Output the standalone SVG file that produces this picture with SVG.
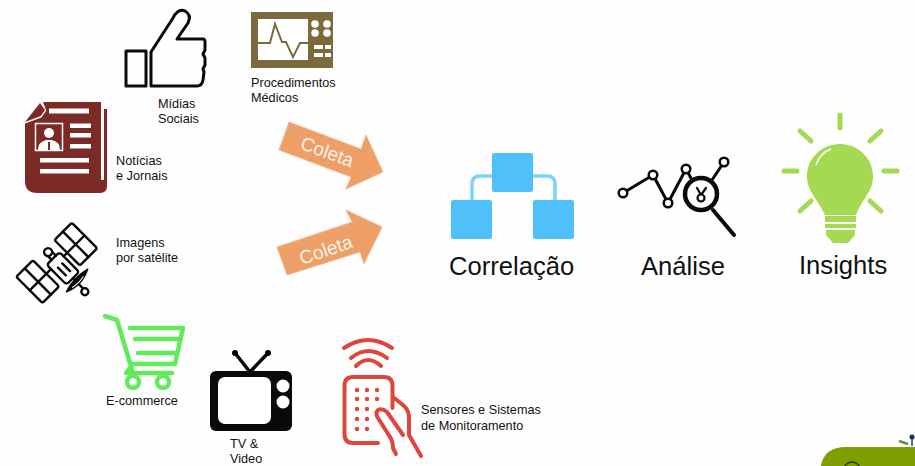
<svg xmlns="http://www.w3.org/2000/svg" width="915" height="466" viewBox="0 0 915 466">
<style>
text{font-family:"Liberation Sans",Arial,sans-serif;fill:#111}
.s{font-size:12.7px}
.b{font-size:25.6px}
.c{font-size:19px;fill:#fdf3ea;text-anchor:middle}
.k{fill:none;stroke:#0a0a0a;stroke-width:3;stroke-linejoin:round;stroke-linecap:round}
.sat{fill:none;stroke:#0a0a0a;stroke-width:2.400;stroke-linejoin:round;stroke-linecap:round}
.w{fill:#fff}
.ar{fill:#ee9f68;stroke:#f2bb94;stroke-width:1}
.cart{fill:none;stroke:#62e95c;stroke-width:4.500;stroke-linecap:round;stroke-linejoin:round}
.red{fill:none;stroke:#df463b;stroke-width:4;stroke-linecap:round;stroke-linejoin:round}
.dot{fill:#df463b}
.blue{fill:#4fc0f9}
.ray{stroke:#a5d951;stroke-width:5;stroke-linecap:round;fill:none}
</style>
<rect width="915" height="466" fill="#fefefe"/>

<g id="midias">
<rect class="k" x="126" y="51" width="20" height="35"/>
<path class="k" d="M151,86V52L173,18Q178,8 185,11Q192,15 188,23L177,39H203Q205,39 205,42V50L203,54L205,58V65L203,69L204,72L203,80Q202,86 197,86Z"/>
<text class="s" x="158" y="108">Mídias</text>
<text class="s" x="158" y="123">Sociais</text>
</g>

<g id="procedimentos">
<rect x="251" y="12" width="82" height="56" fill="#7b6b3c"/>
<rect class="w" x="258" y="19" width="50" height="41"/>
<path d="M258,43H270L275,24L282,42H286L293,57L300,43H308" fill="none" stroke="#7b6b3c" stroke-width="2"/>
<circle class="w" cx="315" cy="24" r="3.800"/><circle class="w" cx="327" cy="24" r="3.800"/>
<circle class="w" cx="315" cy="33" r="3.800"/><circle class="w" cx="327" cy="33" r="3.800"/>
<rect class="w" x="314" y="45" width="9" height="4"/><rect class="w" x="325" y="45" width="6" height="4"/>
<rect class="w" x="314" y="53" width="9" height="4"/><rect class="w" x="325" y="53" width="6" height="4"/>
<text class="s" x="251" y="87">Procedimentos</text>
<text class="s" x="251" y="102">Médicos</text>
</g>

<g id="noticias">
<path d="M25,123L41,117L46,110L43,102H101V180H104V109H107V186Q107,193 100,193H37Q25,193 25,181Z" fill="#7b2a26"/>
<path d="M25,122L40,103L45,110L41,116Z" fill="#7b2a26"/>
<path d="M25,123L41,117L46,110" fill="none" stroke="#fff" stroke-width="1.200"/>
<rect x="35.500" y="123.500" width="27" height="27" fill="none" stroke="#fff" stroke-width="1.500"/>
<circle class="w" cx="49" cy="133" r="5"/>
<path class="w" d="M38,150Q38,142 46,140H52Q60,142 60,150Z"/>
<rect x="48" y="142" width="2" height="8" fill="#7b2a26"/>
<rect class="w" x="49" y="108.500" width="40" height="5"/>
<rect class="w" x="70" y="123.500" width="21" height="4.500"/>
<rect class="w" x="70" y="133" width="21" height="4.500"/>
<rect class="w" x="70" y="144" width="21" height="4.500"/>
<rect class="w" x="40" y="158" width="49" height="4.500"/>
<rect class="w" x="40" y="169" width="49" height="4.500"/>
<text class="s" x="116" y="165">Notícias</text>
<text class="s" x="116" y="180">e Jornais</text>
</g>

<g id="satelite">
<g transform="translate(58,262) rotate(45)">
<g class="sat">
<rect x="-18" y="-37.500" width="36" height="24.500" rx="2"/>
<path d="M0,-37.500V-8M-18,-25H18"/>
<rect x="-19" y="16.500" width="37" height="23.500" rx="2"/>
<path d="M0,10V40M-19,28H18"/>
<rect x="-6" y="-8" width="28" height="18" rx="3"/>
<path d="M4,-2H15M4,4H15M-6,-3H-11M-6,3H-11M22,1H25M31,1H37"/>
<circle cx="-14" cy="0" r="4" fill="#fff"/>
</g>
<path d="M26,-16Q34,0 27,15Q22,0 26,-16Z" fill="#0a0a0a" stroke="#0a0a0a" stroke-width="1.500" stroke-linejoin="round"/>
<path d="M28,-8Q30,0 28,8" fill="none" stroke="#fff" stroke-width="1"/>
<circle cx="40" cy="2" r="3.500" fill="#fff" stroke="#0a0a0a" stroke-width="2.400"/>
</g>
<text class="s" x="116" y="247">Imagens</text>
<text class="s" x="116" y="262">por satélite</text>
</g>

<g id="ecommerce">
<path class="cart" d="M105,316L117,320L133,373M130,328H183L175,364H132M135,339H179M138,353H176M132,365L126,373H172"/>
<circle class="cart" cx="133" cy="382" r="6"/>
<circle class="cart" cx="163" cy="382" r="6"/>
<text class="s" x="106" y="405">E-commerce</text>
</g>

<g id="tv">
<path d="M235,353L250,372L268,353" fill="none" stroke="#0a0a0a" stroke-width="3.500" stroke-linecap="round"/>
<circle cx="235" cy="353" r="3"/><circle cx="268" cy="353" r="3"/>
<rect x="210" y="371" width="82" height="60" rx="6" fill="#0a0a0a"/>
<rect class="w" x="218" y="377" width="53" height="47" rx="7"/>
<circle class="w" cx="283" cy="386" r="6.500"/>
<circle class="w" cx="283" cy="402" r="6.500"/>
<text class="s" x="230" y="448">TV &amp;</text>
<text class="s" x="230" y="463">Video</text>
</g>

<g id="sensores">
<path class="red" d="M344,348Q368,332 392,348M351,358Q368,344 387,358M356,366Q368,354 381,366"/>
<path class="red" d="M378,443H353Q344.500,443 344.500,434V386Q344.500,377 353,377H384Q392.500,377 392.500,386V408"/>
<path class="red" d="M393,397L403,405Q409,410 409,418V435L421,456"/>
<path class="red" d="M403,435L387,412Q382,408 378,410Q375,413 378,418L390,437Q393,441 393,448L396,454"/>
<g class="dot">
<circle cx="357" cy="390" r="2.200"/><circle cx="367" cy="390" r="2.200"/><circle cx="377" cy="390" r="2.200"/>
<circle cx="357" cy="399" r="2.200"/><circle cx="367" cy="399" r="2.200"/><circle cx="377" cy="399" r="2.200"/>
<circle cx="357" cy="409" r="2.200"/><circle cx="367" cy="409" r="2.200"/>
<circle cx="357" cy="419" r="2.200"/><circle cx="367" cy="419" r="2.200"/>
<circle cx="357" cy="429" r="2.200"/><circle cx="367" cy="429" r="2.200"/>
</g>
<text class="s" x="421" y="414">Sensores e Sistemas</text>
<text class="s" x="421" y="430">de Monitoramento</text>
</g>

<g id="connectors">
<polygon class="ar" points="289,122 361,149 366,135 383,172 346,189 351,177 279,150"/>
<text class="c" transform="translate(325,158) rotate(20)">Coleta</text>
<polygon class="ar" points="277,247 352,222 346,210 382,227 364,264 360,252 287,275"/>
<text class="c" transform="translate(328,256) rotate(-19)">Coleta</text>
</g>

<g id="correlacao">
<path d="M472,200V184Q472,176 480,176H547Q555,176 555,184V200" fill="none" stroke="#7fd2fa" stroke-width="3.500"/>
<rect class="blue" x="492" y="153" width="41" height="39" rx="2.500"/>
<rect class="blue" x="451" y="200" width="41" height="39" rx="2.500"/>
<rect class="blue" x="533" y="200" width="41" height="39" rx="2.500"/>
<text class="b" x="449" y="275">Correlação</text>
</g>

<g id="analise">
<path class="k" d="M623,193L653,175L668,203L686,169L692,180M712,180L724,162"/>
<circle cx="701" cy="194" r="16" fill="#fff" stroke="#0a0a0a" stroke-width="4.500"/>
<path class="k" style="stroke-width:2.200" d="M697,188L701,195L706,188"/>
<circle cx="701" cy="198" r="3.500" fill="#fff" stroke="#0a0a0a" stroke-width="2.200"/>
<path d="M713,210L734,235" stroke="#0a0a0a" stroke-width="4" stroke-linecap="round" fill="none"/>
<g fill="#fff" stroke="#0a0a0a" stroke-width="2.500">
<circle cx="623" cy="193" r="4.300"/><circle cx="653" cy="175" r="4.300"/><circle cx="668" cy="203" r="4.300"/><circle cx="686" cy="169" r="4.300"/><circle cx="724" cy="162" r="4.300"/>
</g>
<text class="b" x="641" y="275">Análise</text>
</g>

<g id="insights">
<path class="ray" d="M840,115V128M784,171H797M884,171H897M800,131L811,141M881,131L870,141M811,201L800,211M870,201L881,211"/>
<path d="M840,144C821,144 807,159 807,176C807,192 818,199 825,215H856C862,199 873,192 873,176C873,159 859,144 840,144Z" fill="#a5d951"/>
<path d="M825,216H856V222H825ZM825,224H856V228H825ZM826,230H855V235L848,243H833L826,235Z" fill="#a5d951"/>
<path d="M816,165Q820,153 831,149" fill="none" stroke="#fff" stroke-width="1.500"/>
<text class="b" x="799" y="274">Insights</text>
</g>

<path d="M821,466Q824,447 846,447H915V466Z" fill="#7f9f00"/>
<circle cx="852" cy="470" r="8" fill="none" stroke="#2a3300" stroke-width="1.500"/>
<path d="M899,441L908,444" stroke="#6c8a3c" stroke-width="2.500" fill="none"/>
<path d="M912,438V446" stroke="#1f3f7f" stroke-width="1.500"/>
<circle cx="912" cy="437" r="2.500" fill="#0f2f70"/>
</svg>
